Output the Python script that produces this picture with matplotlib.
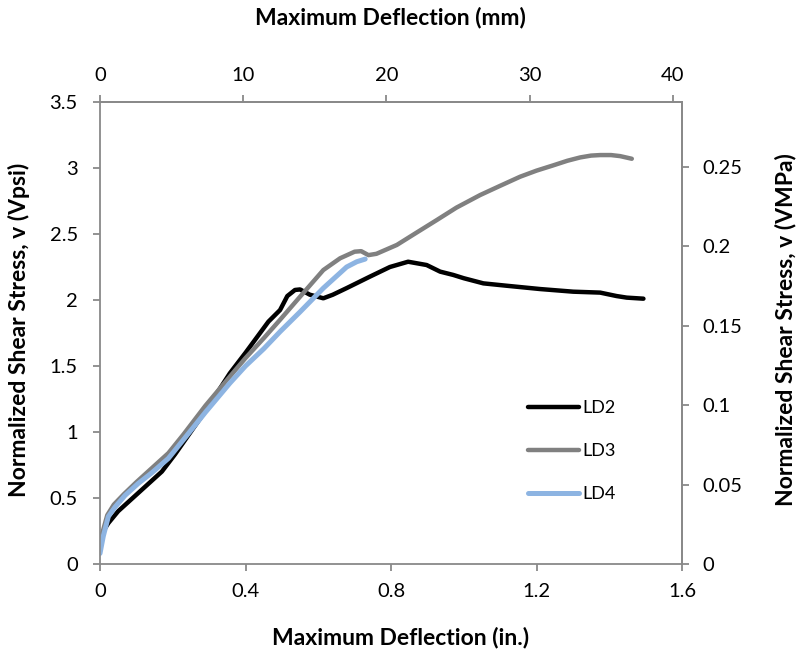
import numpy as np
import matplotlib
matplotlib.use("Agg")
import matplotlib.pyplot as plt

plt.rcParams['font.family'] = ['Lato', 'DejaVu Sans']

# Load-deflection curves (deflection in inches, normalized shear stress in sqrt(psi))
ld2_x = [0.000, 0.009, 0.023, 0.050, 0.078, 0.124, 0.170, 0.206, 0.234, 0.290,
         0.357, 0.400, 0.463, 0.495, 0.515, 0.536, 0.550, 0.577, 0.614, 0.640,
         0.678, 0.742, 0.797, 0.847, 0.898, 0.935, 0.971, 1.000, 1.054, 1.118,
         1.210, 1.301, 1.375, 1.420, 1.448, 1.494]
ld2_y = [0.18, 0.25, 0.31, 0.40, 0.47, 0.585, 0.70, 0.83, 0.94, 1.16,
         1.445, 1.60, 1.836, 1.924, 2.03, 2.076, 2.08, 2.04, 2.013, 2.04,
         2.09, 2.177, 2.25, 2.29, 2.265, 2.215, 2.19, 2.165, 2.126, 2.108,
         2.083, 2.063, 2.056, 2.03, 2.018, 2.01]

ld3_x = [0.000, 0.009, 0.020, 0.038, 0.066, 0.100, 0.140, 0.188, 0.229, 0.290,
         0.357, 0.400, 0.450, 0.495, 0.550, 0.614, 0.660, 0.700, 0.718, 0.738,
         0.760, 0.816, 0.870, 0.926, 0.980, 1.045, 1.100, 1.155, 1.200, 1.246,
         1.285, 1.320, 1.350, 1.375, 1.405, 1.430, 1.462]
ld3_y = [0.15, 0.26, 0.37, 0.45, 0.53, 0.62, 0.72, 0.84, 0.98, 1.20,
         1.42, 1.56, 1.71, 1.85, 2.025, 2.227, 2.316, 2.366, 2.37, 2.34,
         2.35, 2.417, 2.51, 2.606, 2.70, 2.795, 2.865, 2.934, 2.98, 3.02,
         3.055, 3.08, 3.094, 3.098, 3.098, 3.09, 3.07]

ld4_x = [0.000, 0.009, 0.023, 0.041, 0.069, 0.105, 0.142, 0.188, 0.229, 0.290,
         0.357, 0.400, 0.450, 0.495, 0.550, 0.614, 0.650, 0.678, 0.706, 0.729]
ld4_y = [0.08, 0.21, 0.36, 0.43, 0.52, 0.61, 0.69, 0.80, 0.94, 1.15,
         1.37, 1.50, 1.63, 1.76, 1.91, 2.09, 2.18, 2.25, 2.29, 2.31]

series_labels = ["LD2", "LD3", "LD4"]
x_ticks_in = [0, 0.4, 0.8, 1.2, 1.6]
y_ticks_psi = [0, 0.5, 1, 1.5, 2, 2.5, 3, 3.5]
x_ticks_mm = [0, 10, 20, 30, 40]
y_ticks_mpa = [0, 0.05, 0.1, 0.15, 0.2, 0.25]

MM_PER_IN = 25.4
SQRT_MPA_PER_SQRT_PSI = np.sqrt(6.894757e-3)

spine_color = "#898989"
W, H = 801, 653
fig = plt.figure(figsize=(W / 100, H / 100), dpi=100)
ax = fig.add_axes([100 / W, 1 - 564 / H, 582 / W, 462 / H])

line_kw = dict(solid_capstyle="round", solid_joinstyle="round")
ax.plot(ld2_x, ld2_y, color="#000000", lw=3.2, label=series_labels[0], **line_kw)
ax.plot(ld3_x, ld3_y, color="#808080", lw=3.2, label=series_labels[1], **line_kw)
ax.plot(ld4_x, ld4_y, color="#8DB4E2", lw=3.6, label=series_labels[2], **line_kw)

ax.set_xlim(0, 1.6)
ax.set_ylim(0, 3.5)
ax.set_xticks(x_ticks_in)
ax.set_xticklabels([f"{v:g}" for v in x_ticks_in])
ax.set_yticks(y_ticks_psi)
ax.set_yticklabels([f"{v:g}" for v in y_ticks_psi])

for s in ax.spines.values():
    s.set_color(spine_color)
    s.set_linewidth(1.3)

tick_kw = dict(direction="out", length=5, width=1.3, color=spine_color,
               labelsize=14.5, labelcolor="black")
ax.tick_params(axis="x", pad=9, **tick_kw)
ax.tick_params(axis="y", pad=11, **tick_kw)

secx = ax.secondary_xaxis("top", functions=(lambda x: x * MM_PER_IN,
                                            lambda x: x / MM_PER_IN))
secx.set_xticks(x_ticks_mm)
secx.set_xticklabels([f"{v:g}" for v in x_ticks_mm])
secx.tick_params(axis="x", pad=8, **tick_kw)
secx.spines["top"].set_color(spine_color)
secx.spines["top"].set_linewidth(1.3)

secy = ax.secondary_yaxis("right", functions=(lambda y: y * SQRT_MPA_PER_SQRT_PSI,
                                              lambda y: y / SQRT_MPA_PER_SQRT_PSI))
secy.set_yticks(y_ticks_mpa)
secy.set_yticklabels([f"{v:g}" for v in y_ticks_mpa])
secy.tick_params(axis="y", pad=10, **tick_kw)
secy.spines["right"].set_color(spine_color)
secy.spines["right"].set_linewidth(1.3)

label_kw = dict(fontsize=16.5, fontweight="bold", ha="center", va="center")
fig.text(401 / W, 1 - 637 / H, "Maximum Deflection (in.)", **label_kw)
fig.text(390 / W, 1 - 18 / H, "Maximum Deflection (mm)", **label_kw)
fig.text(19 / W, 1 - 330 / H, "Normalized Shear Stress, v (Vpsi)", rotation=90, **label_kw)
fig.text(785 / W, 1 - 330 / H, "Normalized Shear Stress, v (VMPa)", rotation=90, **label_kw)

ax.legend(loc="upper left", bbox_to_anchor=((528 - 100) / 582, (564 - 400) / 462),
          frameon=False, fontsize=13, handlelength=2.8, handletextpad=0.2,
          labelspacing=1.5, borderpad=0, borderaxespad=0)

fig.savefig("out.png", dpi=100)
